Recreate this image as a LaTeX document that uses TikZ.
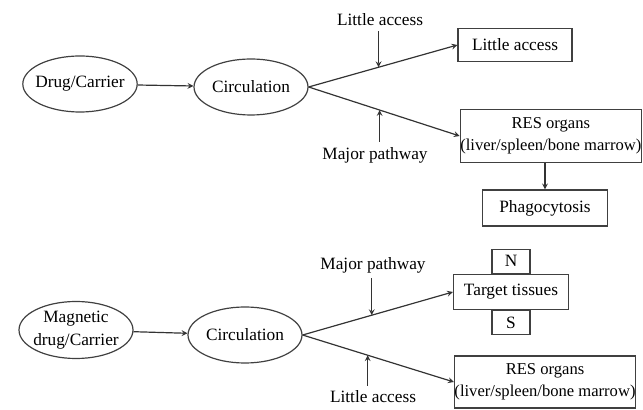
\documentclass[tikz,border=0pt]{standalone}
\usepackage{fontspec}
\setmainfont{Liberation Serif}
\usetikzlibrary{arrows, shapes.geometric, positioning}
\tikzset{>=stealth}

\begin{document}
\begin{tikzpicture}[>=stealth, line width=0.85pt, font=\fontsize{12.3}{16}\selectfont,
	oval/.style={draw=black!75, ellipse, minimum width=2.85cm, minimum height=1.4cm, inner xsep=-3pt, inner ysep=0pt, align=center},
	organ/.style={draw=black!75, rectangle, inner sep=0pt, align=center},
	pole/.style={draw=black!75, rectangle, minimum width=0.95cm, minimum height=0.6cm, inner sep=0pt},
	link/.style={->, draw=black!80}]
		\useasboundingbox (0,0) rectangle (16.075,10.25);
		% ordinary carrier
		\node[oval] (D1) at (2,8.15) {Drug/Carrier};
		\node[oval] (C1) at (6.275,8.075) {Circulation};
		\node[organ, minimum width=2.85cm, minimum height=0.825cm] (L1) at (12.875,9.125) {Little access};
		\node[organ, minimum width=4.45cm, minimum height=1.325cm, font=\fontsize{11.8}{16}\selectfont] (R1) at (13.77,6.85) {RES organs\\(liver/spleen/bone marrow)};
		\node[organ, minimum width=3.125cm, minimum height=0.9cm] (P1) at (13.625,5.05) {Phagocytosis};
		\node (a1) at (9.5,9.75) {Little access};
		\node (b1) at (9.375,6.375) {Major pathway};
		\draw [link](D1)--(C1);
		\draw [link](C1.east)-- coordinate[pos=.47] (m1) (L1.west);
		\draw [link](C1.east)-- coordinate[pos=.47] (n1) (R1.west);
		\draw [link](m1 |- a1.south)--(m1);
		\draw [link](n1 |- b1.north)--(n1);
		\draw [link](P1.north |- R1.south)--(P1.north);
		% magnetic carrier
		\node[oval, minimum height=1.425cm] (D2) at (1.9,2.0) {Magnetic\\drug/Carrier};
		\node[oval] (C2) at (6.125,1.875) {Circulation};
		\node[organ, minimum width=2.875cm, minimum height=0.875cm] (T2) at (12.775,2.95) {Target tissues};
		\node[pole, above=0pt of T2] (N2) {N};
		\node[pole, below=0pt of T2] (S2) {S};
		\node[organ, minimum width=4.4cm, minimum height=1.3cm, font=\fontsize{11.8}{16}\selectfont] (R2) at (13.625,0.7) {RES organs\\(liver/spleen/bone marrow)};
		\node (a2) at (9.325,3.625) {Major pathway};
		\node (b2) at (9.325,0.325) {Little access};
		\draw [link](D2)--(C2);
		\draw [link](C2.east)-- coordinate[pos=.46] (m2) (T2.west);
		\draw [link](C2.east)-- coordinate[pos=.43] (n2) (R2.west);
		\draw [link](m2 |- a2.south)--(m2);
		\draw [link](n2 |- b2.north)--(n2);
\end{tikzpicture}
\end{document}
